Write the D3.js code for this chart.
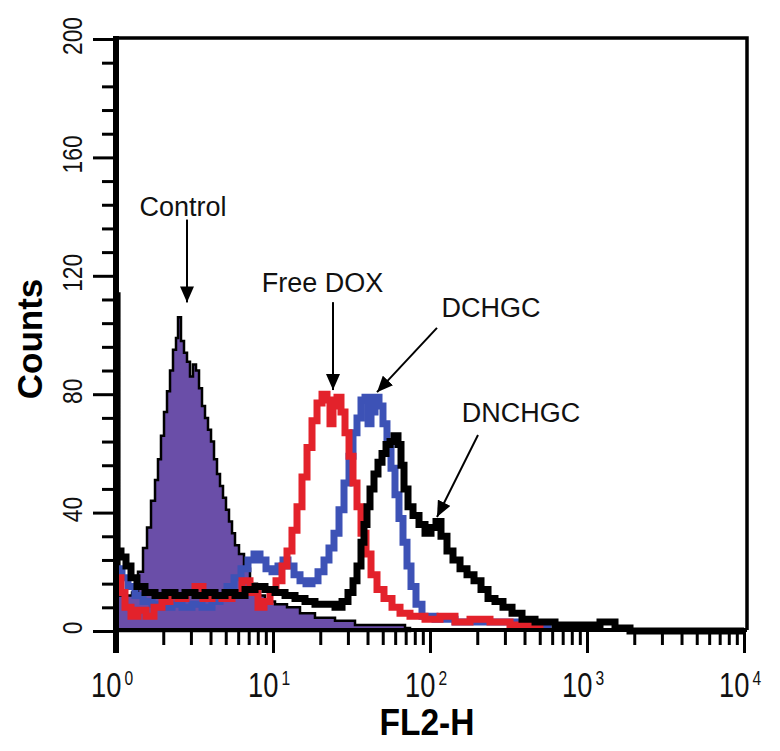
<!DOCTYPE html>
<html><head><meta charset="utf-8">
<script src="https://cdn.jsdelivr.net/npm/d3@7"></script>
<style>body{margin:0;background:#fff}svg{display:block}text{font-family:"Liberation Sans",Arial,Helvetica,sans-serif}</style>
</head><body>
<svg id="c" width="780" height="751"></svg>
<script>
// ---- data: [FL2-H intensity, counts] histogram bins (step after) ----
const yMajorTicks = [0, 40, 80, 120, 160, 200];
const yMinorTicks = [8,16,24,32,48,56,64,72,88,96,104,112,128,136,144,152,168,176,184,192];
const xMajorTicks = [1, 10, 100, 1000, 10000];
const xTickExponents = ["0", "1", "2", "3", "4"];
const xMinorTicks = [2,3,4,5,6,7,8,9,20,30,40,50,60,70,80,90,200,300,400,500,600,700,800,900,2000,3000,4000,5000,6000,7000,8000,9000];

const control = [[1.0,114],[1.05,12],[1.265,13],[1.381,20],[1.486,28],[1.576,35],[1.671,44],[1.772,51],[1.851,58],[1.934,66],[2.022,74],[2.113,81],[2.208,88],[2.307,95],[2.411,99],[2.483,106],[2.594,98],[2.711,94],[2.833,91],[2.960,86],[3.093,90],[3.233,88],[3.379,82],[3.530,76],[3.689,72],[3.855,68],[4.029,64],[4.210,58],[4.399,53],[4.597,49],[4.804,45],[5.019,41],[5.245,37],[5.482,33],[5.728,29],[6.074,26],[6.536,21],[7.137,16],[7.910,12],[8.892,10],[10.30,9],[12.28,8],[14.86,6],[18.51,4.5],[24.83,3.5],[33.29,2],[48.04,2],[69.31,1],[74.6,0]];

const freeDOX = [[1.015,18],[1.076,13],[1.141,8],[1.246,5],[1.381,7],[1.553,5],[1.746,8],[1.963,10],[2.208,12],[2.483,11],[2.792,13],[3.186,15],[3.582,11],[4.089,12],[4.733,11],[5.482,12],[6.347,17],[7.137,13],[8.027,8],[8.763,10],[9.570,13],[10.45,17],[11.41,22],[12.28,27],[13.21,34],[14.22,42],[15.30,52],[16.47,62],[17.72,71],[19.07,77],[20.52,80],[22.08,78],[23.07,70],[24.11,76],[25.56,79],[27.11,74],[28.75,67],[30.49,59],[32.33,50],[34.28,42],[36.35,33],[39.12,26],[42.10,19],[45.97,14],[50.93,11],[57.28,8],[64.42,6],[74.57,5],[92.94,4],[115.8,5],[144.3,3],[179.8,4],[241.1,3],[323.3,2],[433.5,1],[501.9,0]];

const dchgc = [[1.015,21],[1.092,18],[1.192,15],[1.321,12],[1.486,10],[1.696,9],[1.963,8],[2.274,9],[2.633,8],[3.049,9],[3.530,8],[4.089,10],[4.597,12],[5.093,15],[5.645,18],[6.255,21],[6.931,24],[7.568,26],[8.265,24],[9.024,21],[9.854,20],[10.76,22],[11.58,24],[12.46,22],[13.61,19],[14.86,17],[16.23,16],[17.72,17],[19.35,20],[21.13,24],[22.73,28],[24.46,33],[26.33,41],[28.33,50],[30.49,59],[32.33,67],[34.28,72],[36.35,78],[38.55,79],[40.30,70],[42.10,74],[44.65,79],[47.34,76],[50.18,70],[53.21,64],[56.45,55],[59.85,46],[63.45,38],[67.30,30],[71.37,22],[75.68,15],[81.43,9],[88.92,5],[107.6,4],[144.3,3],[208.2,3],[300.4,3],[433.5,2],[564.5,0]];

const dnchgc = [[1.015,27],[1.076,25],[1.158,22],[1.246,18],[1.360,15],[1.530,13],[1.772,12],[2.051,13],[2.375,12],[2.751,13],[3.186,12],[3.689,13],[4.272,12],[4.947,13],[5.728,12],[6.634,14],[7.682,15],[8.892,14],[10.30,13],[11.93,12],[13.81,11],[15.99,10],[18.51,9],[21.44,9],[24.83,8],[27.52,10],[30.04,13],[32.33,17],[34.28,22],[36.35,30],[37.98,36],[39.69,42],[41.48,48],[43.98,53],[46.64,57],[49.47,60],[52.46,63],[55.63,64],[58.98,66],[62.55,63],[65.36,56],[68.30,48],[72.43,42],[77.94,39],[85.11,36],[92.94,33],[101.5,35],[109.2,37],[117.5,32],[128.3,27],[140.1,24],[155.3,21],[172.1,19],[190.7,17],[211.3,14],[234.2,11],[259.4,10],[291.7,8],[333.0,6],[385.5,4],[466.6,3],[625.5,2],[838.7,2],[1210,3],[1508,1],[1879,0],[10000,0]];

// annotations: label, text anchor point, arrow start, arrow tip (data coords)
const labels = ["Control", "Free DOX", "DCHGC", "DNCHGC"];
const labelPos = [[2.672,140.2],[20.67,114.5],[244.7,106.1],[379.8,70.6]];
const arrowFrom = [[2.833,139],[24.11,111.1],[110.8,102.4],[202.2,66.2]];
const arrowTo = [[2.833,111],[24.11,81.4],[45.97,80.7],[110.8,38.5]];

// ---- drawing ----
const svg = d3.select("#c");
const L = 116, R = 747, T = 38, B = 630;
const x = d3.scaleLog().domain([1, 10000]).range([116, 744]);
const y = d3.scaleLinear().domain([0, 200]).range([631, 39]);

const defs = svg.append("defs");
defs.append("marker").attr("id","ah").attr("markerUnits","userSpaceOnUse")
  .attr("viewBox","0 0 16 14").attr("refX",16).attr("refY",7)
  .attr("markerWidth",16).attr("markerHeight",14).attr("orient","auto")
  .append("path").attr("d","M0,0L16,7L0,14Z").attr("fill","#000");

const g = svg.append("g");
const area = d3.area().x(d=>x(d[0])).y0(y(0)).y1(d=>y(d[1])).curve(d3.curveStepAfter);
const line = d3.line().x(d=>x(d[0])).y(d=>y(d[1])).curve(d3.curveStepAfter);

g.append("path").datum(control).attr("d", area).attr("fill","#6a4ea8")
  .attr("stroke","#000").attr("stroke-width",2.5).attr("stroke-linejoin","miter");
g.append("path").datum(dchgc).attr("d", line).attr("fill","none")
  .attr("stroke","#3d52b6").attr("stroke-width",7).attr("stroke-linejoin","miter");
g.append("path").datum(freeDOX).attr("d", line).attr("fill","none")
  .attr("stroke","#e3222b").attr("stroke-width",7).attr("stroke-linejoin","miter");
g.append("path").datum(dnchgc).attr("d", line).attr("fill","none")
  .attr("stroke","#000").attr("stroke-width",7).attr("stroke-linejoin","miter");

// frame
svg.append("path").attr("d",`M${L},${T}H${R}V${B}`).attr("fill","none")
  .attr("stroke","#000").attr("stroke-width",3.5);
svg.append("line").attr("x1",L).attr("x2",R).attr("y1",B).attr("y2",B)
  .attr("stroke","#000").attr("stroke-width",4);

// y axis ticks
const yAxMaj = d3.axisLeft(y).tickValues(yMajorTicks).tickSize(23).tickFormat("");
const yAxMin = d3.axisLeft(y).tickValues(yMinorTicks).tickSize(14).tickFormat("");
[yAxMaj, yAxMin].forEach(a=>{
  const ga = svg.append("g").attr("transform",`translate(${L},0)`).call(a);
  ga.select(".domain").remove();
  ga.selectAll("line").attr("stroke","#000").attr("stroke-width",3);
});
// x axis ticks
const xAxMaj = d3.axisBottom(x).tickValues(xMajorTicks).tickSize(23).tickFormat("");
const xAxMin = d3.axisBottom(x).tickValues(xMinorTicks).tickSize(15).tickFormat("");
[xAxMaj, xAxMin].forEach(a=>{
  const ga = svg.append("g").attr("transform",`translate(0,${B})`).call(a);
  ga.select(".domain").remove();
  ga.selectAll("line").attr("stroke","#000").attr("stroke-width",3);
});
// thick left axis line
svg.append("line").attr("x1",L).attr("x2",L).attr("y1",T-2).attr("y2",653)
  .attr("stroke","#000").attr("stroke-width",6);

// y tick labels (rotated, condensed)
yMajorTicks.forEach(v=>{
  const s = String(v);
  svg.append("text").attr("transform",`translate(82,${y(v)-3}) rotate(-90)`)
    .attr("text-anchor","middle").attr("font-size",28)
    .attr("textLength", 12.7*s.length).attr("lengthAdjust","spacingAndGlyphs")
    .attr("fill","#111").text(s);
});
// x tick labels 10^n (single text with superscript tspan, horizontally condensed)
xMajorTicks.forEach((v,i)=>{
  const px = x(v);
  const t = svg.append("text").attr("transform",`translate(${px-25},697) scale(0.78,1)`)
    .attr("font-size",35).attr("fill","#111");
  t.append("tspan").text("10");
  t.append("tspan").attr("dx",4).attr("dy",-12).attr("font-size",20).text(xTickExponents[i]);
});
// axis titles
svg.append("text").attr("x",427).attr("y",735).attr("text-anchor","middle")
  .attr("font-size",36).attr("font-weight","bold").attr("textLength",95)
  .attr("lengthAdjust","spacingAndGlyphs").text("FL2-H");
svg.append("text").attr("transform","translate(42,339) rotate(-90)").attr("text-anchor","middle")
  .attr("font-size",35).attr("font-weight","bold").text("Counts");

// annotations
labels.forEach((t,i)=>{
  svg.append("text").attr("x",x(labelPos[i][0])).attr("y",y(labelPos[i][1]))
    .attr("text-anchor","middle").attr("font-size",27).attr("fill","#111").text(t);
  svg.append("line").attr("x1",x(arrowFrom[i][0])).attr("y1",y(arrowFrom[i][1]))
    .attr("x2",x(arrowTo[i][0])).attr("y2",y(arrowTo[i][1]))
    .attr("stroke","#000").attr("stroke-width",2).attr("marker-end","url(#ah)");
});
</script>
</body></html>
